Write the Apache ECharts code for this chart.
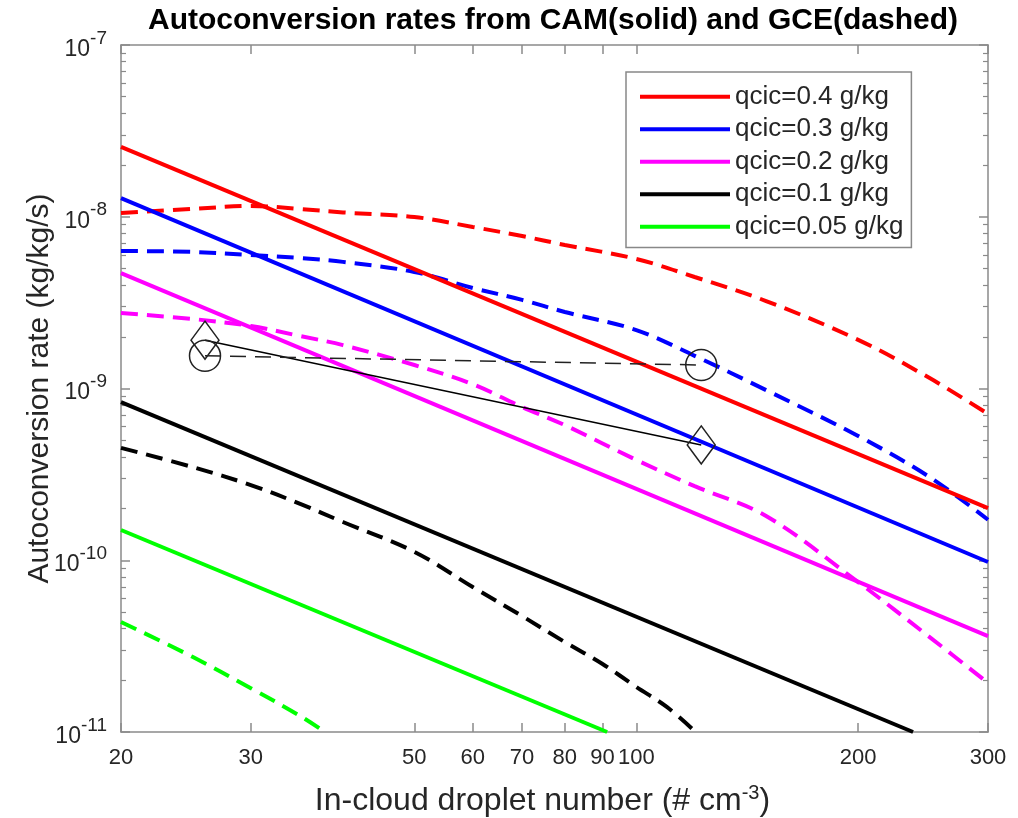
<!DOCTYPE html>
<html>
<head>
<meta charset="utf-8">
<script src="https://cdn.jsdelivr.net/npm/echarts@6/dist/echarts.min.js"></script>
<style>html,body{margin:0;padding:0;background:#fff}#c{width:1018px;height:818px}</style>
</head>
<body>
<div id="c"></div>
<script>
// ---- data ----
const xTicks = [20, 30, 50, 60, 70, 80, 90, 100, 200, 300];
const yTicks = [1e-11, 1e-10, 1e-9, 1e-8, 1e-7];
const legendNames = ['qcic=0.4 g/kg', 'qcic=0.3 g/kg', 'qcic=0.2 g/kg', 'qcic=0.1 g/kg', 'qcic=0.05 g/kg'];

// CAM (solid) : droplet number, rate
const camN04 = [20, 300];   const cam04 = [2.55e-8, 2.01e-10];
const camN03 = [20, 300];   const cam03 = [1.285e-8, 9.77e-11];
const camN02 = [20, 300];   const cam02 = [4.70e-9, 3.62e-11];
const camN01 = [20, 237.4]; const cam01 = [8.34e-10, 1.0e-11];
const camN005 = [20, 91.3]; const cam005 = [1.50e-10, 1.0e-11];

// GCE (dashed)
const gceN = [20, 25, 30, 35, 40, 50, 60, 70, 80, 100, 120, 150, 200, 250, 300];
const gce04 = [1.05e-8, 1.11e-8, 1.156e-8, 1.11e-8, 1.06e-8, 9.97e-9, 8.72e-9, 7.72e-9, 6.85e-9, 5.68e-9, 4.46e-9, 3.23e-9, 1.92e-9, 1.15e-9, 7.11e-10];
const gce03 = [6.32e-9, 6.24e-9, 5.99e-9, 5.75e-9, 5.46e-9, 4.77e-9, 3.85e-9, 3.28e-9, 2.79e-9, 2.19e-9, 1.55e-9, 9.79e-10, 5.29e-10, 3.05e-10, 1.72e-10];
const gce02 = [2.75e-9, 2.54e-9, 2.31e-9, 2.02e-9, 1.79e-9, 1.37e-9, 1.06e-9, 7.80e-10, 6.12e-10, 3.84e-10, 2.70e-10, 1.81e-10, 7.46e-11, 3.57e-11, 1.93e-11];
const gceN01 = [20, 25, 30, 35, 40, 50, 60, 70, 80, 90, 100, 110, 120.4];
const gce01 = [4.51e-10, 3.49e-10, 2.74e-10, 2.13e-10, 1.67e-10, 1.12e-10, 6.98e-11, 4.73e-11, 3.34e-11, 2.49e-11, 1.83e-11, 1.40e-11, 1.0e-11];
const gceN005 = [20, 25, 30, 35, 37.8];
const gce005 = [4.37e-11, 2.74e-11, 1.80e-11, 1.24e-11, 1.0e-11];

// two observation points
const obsN = [26, 122.5];
const obsCAM = [1.91e-9, 4.69e-10];   // diamonds, solid line
const obsGCE = [1.55e-9, 1.37e-9];    // circles, dashed line

// ---- helpers ----
const zip = (xs, ys) => xs.map((x, i) => [x, ys[i]]);
const yMinor = [];
for (let e = -11; e < -7; e++) for (let m = 2; m <= 9; m++) yMinor.push(m * Math.pow(10, e));

const FONT = 'Liberation Sans, Arial, Helvetica, sans-serif';
const TXT = '#262626';
const AX = '#8a8a8a';
const colors = ['#ff0000', '#0000ff', '#ff00ff', '#000000', '#00ff00'];

const expLabel = v => {
  const e = Math.round(Math.log10(v));
  return '{b|10}{s|' + e + '}';
};

const xBase = {
  type: 'log', min: 20, max: 300, gridIndex: 0,
  axisLine: { show: true, lineStyle: { color: AX, width: 1.5 } },
  axisTick: { show: true, inside: true, length: 9, lineStyle: { color: AX, width: 1.5 }, customValues: xTicks },
  splitLine: { show: false }, minorTick: { show: false }
};
const yBase = {
  type: 'log', min: 1e-11, max: 1e-7, gridIndex: 0,
  axisLine: { show: true, lineStyle: { color: AX, width: 1.5 } },
  splitLine: { show: false }
};

const solid = (name, xs, ys, c) => ({
  name, type: 'line', data: zip(xs, ys), symbol: 'none', showSymbol: false,
  lineStyle: { color: c, width: 4 }, itemStyle: { color: c }, z: 3, animation: false
});
const dashed = (name, xs, ys, c) => ({
  name, type: 'line', data: zip(xs, ys), symbol: 'none', showSymbol: false, smooth: 0.35,
  lineStyle: { color: c, width: 4, type: [17, 9] }, itemStyle: { color: c }, z: 2, animation: false
});

const chart = echarts.init(document.getElementById('c'), null, { renderer: 'canvas' });
chart.setOption({
  animation: false,
  backgroundColor: '#fff',
  title: {
    text: 'Autoconversion rates from CAM(solid) and GCE(dashed)',
    left: 553, top: 6, textAlign: 'center', padding: 0,
    textStyle: { fontFamily: FONT, fontWeight: 'bold', fontSize: 30, color: '#000' }
  },
  grid: { left: 121, right: 30, top: 45, bottom: 86, containLabel: false, outerBoundsMode: 'none' },
  legend: {
    data: legendNames, orient: 'vertical', left: 626, top: 72,
    icon: 'rect', itemWidth: 90, itemHeight: 4, itemGap: 5,
    padding: [11, 8, 7, 14], borderColor: '#888', borderWidth: 1.5, backgroundColor: '#fff',
    textStyle: { fontFamily: FONT, fontSize: 26, color: TXT, lineHeight: 27.5 },
    selectedMode: false
  },
  xAxis: [
    Object.assign({}, xBase, {
      position: 'bottom',
      axisLabel: { show: true, customValues: xTicks, fontFamily: FONT, fontSize: 22, color: TXT, margin: 15 },
      name: '{n|In-cloud droplet number (# cm}{s|-3}{n|)}', nameLocation: 'middle', nameGap: 51,
      nameMoveOverlap: false,
      nameTextStyle: { padding: [0, 24, 0, 0], rich: {
        n: { fontFamily: FONT, fontSize: 32, color: TXT, lineHeight: 34, verticalAlign: 'bottom' },
        s: { fontFamily: FONT, fontSize: 20, color: TXT, lineHeight: 20, verticalAlign: 'top' } } }
    }),
    Object.assign({}, xBase, { position: 'top', axisLabel: { show: false } })
  ],
  yAxis: [
    Object.assign({}, yBase, {
      position: 'left',
      axisTick: { show: true, inside: true, length: 9, lineStyle: { color: AX, width: 1.5 }, customValues: yTicks },
      axisLabel: { show: true, customValues: yTicks, formatter: expLabel, margin: 14,
        rich: {
          b: { fontFamily: FONT, fontSize: 23, color: TXT, lineHeight: 32, verticalAlign: 'bottom' },
          s: { fontFamily: FONT, fontSize: 19, color: TXT, lineHeight: 19, verticalAlign: 'top' } } },
      name: 'Autoconversion rate (kg/kg/s)', nameLocation: 'middle', nameGap: 66,
      nameMoveOverlap: false,
      nameTextStyle: { fontFamily: FONT, fontSize: 30, color: TXT }
    }),
    Object.assign({}, yBase, {
      position: 'left', axisLine: { show: false },
      axisTick: { show: true, inside: true, length: 5, lineStyle: { color: AX, width: 1.2 }, customValues: yMinor },
      axisLabel: { show: false }
    }),
    Object.assign({}, yBase, {
      position: 'right',
      axisTick: { show: true, inside: true, length: 9, lineStyle: { color: AX, width: 1.5 }, customValues: yTicks },
      axisLabel: { show: false }
    }),
    Object.assign({}, yBase, {
      position: 'right', axisLine: { show: false },
      axisTick: { show: true, inside: true, length: 5, lineStyle: { color: AX, width: 1.2 }, customValues: yMinor },
      axisLabel: { show: false }
    })
  ],
  series: [
    dashed('GCE 0.4', gceN, gce04, colors[0]),
    dashed('GCE 0.3', gceN, gce03, colors[1]),
    dashed('GCE 0.2', gceN, gce02, colors[2]),
    dashed('GCE 0.1', gceN01, gce01, colors[3]),
    dashed('GCE 0.05', gceN005, gce005, colors[4]),
    solid(legendNames[0], camN04, cam04, colors[0]),
    solid(legendNames[1], camN03, cam03, colors[1]),
    solid(legendNames[2], camN02, cam02, colors[2]),
    solid(legendNames[3], camN01, cam01, colors[3]),
    solid(legendNames[4], camN005, cam005, colors[4]),
    {
      name: 'obs CAM', type: 'line', data: zip(obsN, obsCAM), symbol: 'diamond', symbolSize: [28, 38],
      showSymbol: true, lineStyle: { color: '#000', width: 1.5 },
      itemStyle: { color: 'rgba(0,0,0,0)', borderColor: '#222', borderWidth: 1.5 }, z: 5
    },
    {
      name: 'obs GCE', type: 'line', data: zip(obsN, obsGCE), symbol: 'circle', symbolSize: 31,
      showSymbol: true, lineStyle: { color: '#222', width: 1.5, type: [16, 9] },
      itemStyle: { color: 'rgba(0,0,0,0)', borderColor: '#222', borderWidth: 1.5 }, z: 5
    }
  ]
});
</script>
</body>
</html>
